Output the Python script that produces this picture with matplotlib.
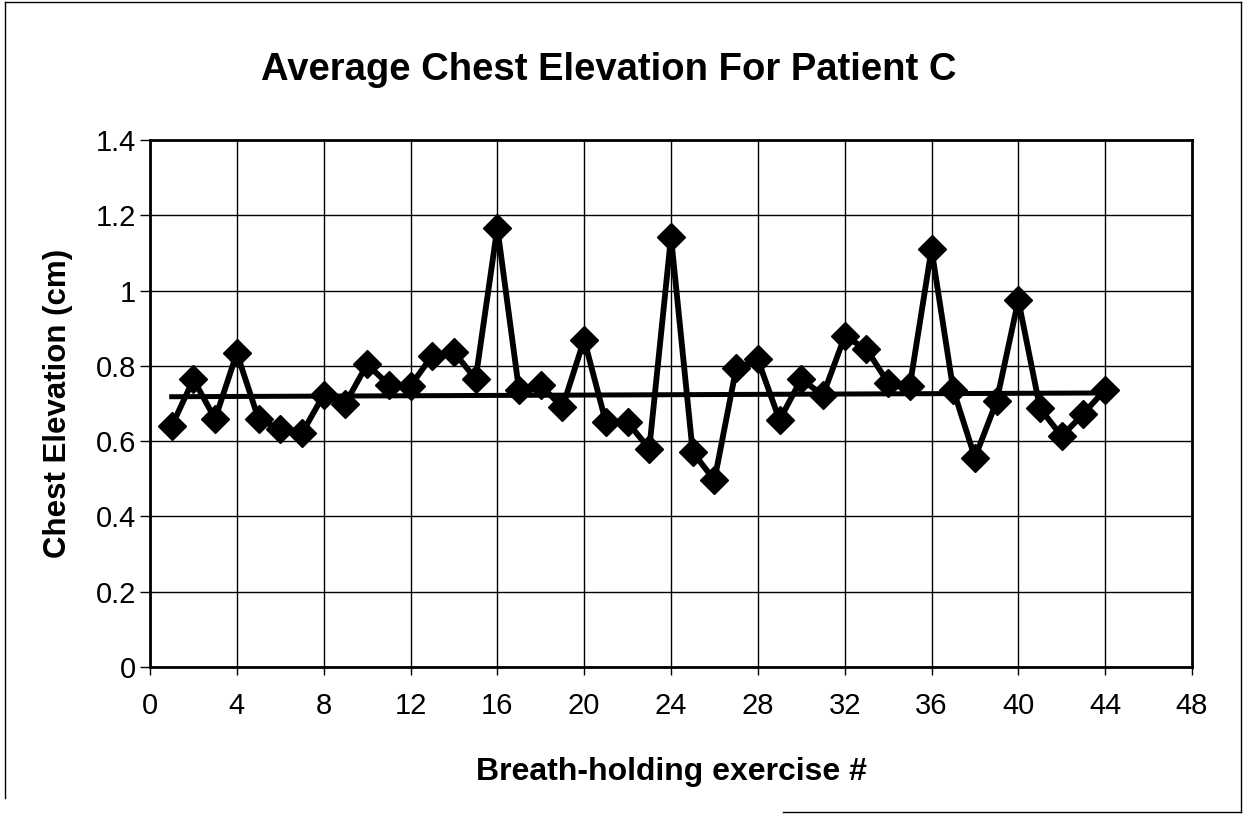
import matplotlib.pyplot as plt
from matplotlib.lines import Line2D

plt.rcParams['font.family'] = ['Liberation Sans', 'DejaVu Sans']

# Breath-holding exercise number and average chest elevation (cm)
exercise = list(range(1, 45))
elevation = [0.64, 0.764, 0.659, 0.834, 0.659, 0.631, 0.621, 0.723, 0.70, 0.804,
             0.75, 0.747, 0.827, 0.837, 0.765, 1.167, 0.735, 0.748, 0.69, 0.87,
             0.65, 0.65, 0.58, 1.143, 0.571, 0.496, 0.793, 0.817, 0.656, 0.765,
             0.722, 0.878, 0.845, 0.755, 0.746, 1.11, 0.737, 0.556, 0.706, 0.975,
             0.687, 0.613, 0.673, 0.737]

# trend line end points, as drawn on the chart
trend_x = [1, 44]
trend_y = [0.718, 0.728]

x_ticks = list(range(0, 49, 4))
y_ticks = [0, 0.2, 0.4, 0.6, 0.8, 1, 1.2, 1.4]
y_labels = ['0', '0.2', '0.4', '0.6', '0.8', '1', '1.2', '1.4']

fig = plt.figure(figsize=(12.43, 8.14), dpi=100)
ax = fig.add_axes([150 / 1243, 1 - 667 / 814, 1042 / 1243, 527 / 814])

ax.plot(trend_x, trend_y, color='black', lw=3.6, zorder=2)
ax.plot(exercise, elevation, color='black', lw=4.2, marker='D', ms=14,
        markerfacecolor='black', markeredgecolor='black', zorder=3)

ax.set_xlim(0, 48)
ax.set_ylim(0, 1.4)
ax.set_xticks(x_ticks)
ax.set_yticks(y_ticks)
ax.set_yticklabels(y_labels)
ax.tick_params(labelsize=21, direction='out', width=1)
ax.tick_params(axis='x', length=6, pad=12)
ax.tick_params(axis='y', length=7, pad=3)
ax.grid(True, color='black', lw=1.0)
ax.set_axisbelow(True)
for s in ax.spines.values():
    s.set_linewidth(2)

ax.set_xlabel('Breath-holding exercise #', fontsize=23, fontweight='bold')
ax.set_ylabel('Chest Elevation (cm)', fontsize=22.5, fontweight='bold')
ax.xaxis.set_label_coords(0.5, -0.17)
ax.yaxis.set_label_coords(-0.074, 0.5)
fig.text(0.49, 1 - 70 / 814, 'Average Chest Elevation For Patient C',
         fontsize=27.5, fontweight='bold', ha='center', va='center')

# chart area border (bottom edge only partly visible in the scan)
for xs, ys in [([0.004, 0.004], [0.02, 0.997]), ([0.004, 0.998], [0.997, 0.997]),
               ([0.998, 0.998], [0.003, 0.997]), ([0.63, 0.998], [0.003, 0.003])]:
    fig.add_artist(Line2D(xs, ys, transform=fig.transFigure, color='black', lw=1))

fig.savefig('out.png', dpi=100)
plt.close(fig)
